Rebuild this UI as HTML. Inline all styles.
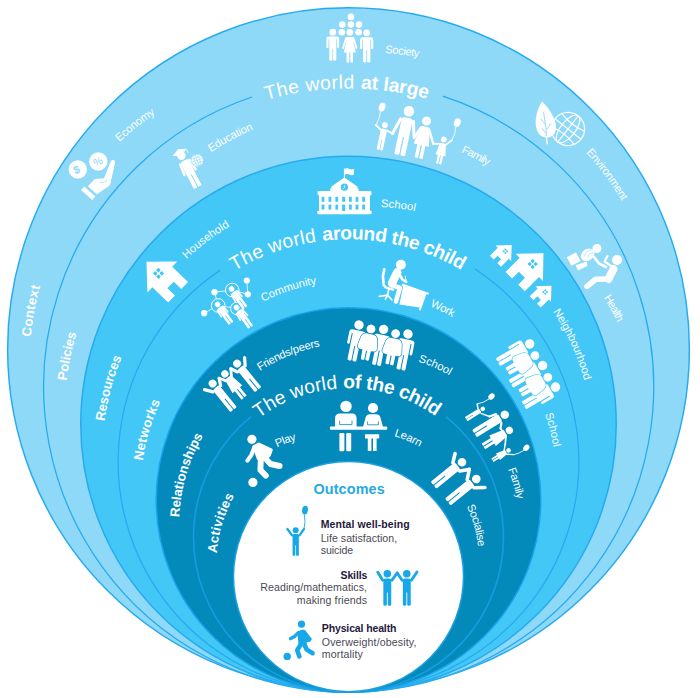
<!DOCTYPE html>
<html lang="en"><head><meta charset="utf-8"><title>The worlds of the child</title>
<style>html,body{margin:0;padding:0;background:#fff}svg{display:block}</style></head>
<body>
<svg width="700" height="698" viewBox="0 0 700 698"><defs><path id="p1" d="M197.95 129.31 A298.35 298.35 0 0 1 495.97 127.36"/><path id="p2" d="M190.69 305.18 A222.2 222.2 0 0 1 504.89 303.75"/><path id="p3" d="M232.13 444.15 A149 149 0 0 1 462.6 441.37"/><path id="p4" d="M30.21 343.35 A324 324 0 0 1 52.76 248.08"/><path id="p5" d="M65.85 386.5 A287 287 0 0 1 90.66 296.02"/><path id="p6" d="M104.02 426.25 A249 249 0 0 1 139.82 321.84"/><path id="p7" d="M142.25 464.88 A211 211 0 0 1 180.6 366.84"/><path id="p8" d="M179.31 520.78 A174 174 0 0 1 226.94 403.96"/><path id="p9" d="M216.63 555.99 A135 135 0 0 1 259.14 464.56"/><path id="p10" d="M378.71 52.73 A320 320 0 0 1 457.28 66.39"/><path id="p11" d="M114.5 146.44 A320 320 0 0 1 189.68 93.68"/><path id="p12" d="M206.25 155.36 A285 285 0 0 1 291.01 116.25"/><path id="p13" d="M455.87 150.03 A285 285 0 0 1 520.09 187.66"/><path id="p14" d="M581.67 147.78 A320 320 0 0 1 640.24 236.01"/><path id="p15" d="M600.63 292.7 A285 285 0 0 1 632.54 358.75"/><path id="p16" d="M376 206.81 A240 240 0 0 1 453.63 222.13"/><path id="p17" d="M183.08 262.41 A245 245 0 0 1 265.68 208.72"/><path id="p18" d="M259.35 303.67 A205 205 0 0 1 356.38 280.29"/><path id="p19" d="M426.21 304.43 A205 205 0 0 1 484.47 340.24"/><path id="p20" d="M550.16 307.44 A245 245 0 0 1 591.91 419.52"/><path id="p21" d="M543.63 410.14 A205 205 0 0 1 556.06 487.05"/><path id="p22" d="M257.18 372.89 A170 170 0 0 1 359.37 343.24"/><path id="p23" d="M414.86 360.47 A170 170 0 0 1 481.55 399.28"/><path id="p24" d="M506.71 466.06 A170 170 0 0 1 520 538.58"/><path id="p25" d="M274.65 448.31 A130 130 0 0 1 335.55 435.38"/><path id="p26" d="M391.51 435.26 A130 130 0 0 1 450.9 471.65"/><path id="p27" d="M465.58 503.85 A130 130 0 0 1 476.4 586.11"/></defs>
<ellipse cx="348.5" cy="349.2" rx="340.88" ry="341.38" fill="#8ed8f8" stroke="#26abf0" stroke-width="1.45"/>
<path d="M442.8 96.19 A305.02 305.52 0 1 1 252 97.02" fill="none" stroke="#26abf0" stroke-width="1.25"/>
<ellipse cx="348.5" cy="424.3" rx="267.75" ry="268.05" fill="#43c7f6" stroke="#26abf0" stroke-width="1.5"/>
<path d="M475 269.06 A230.38 230.38 0 1 1 220 270.39" fill="none" stroke="#26abf0" stroke-width="1.25"/>
<ellipse cx="348.5" cy="500" rx="192.25" ry="192.25" fill="#0489bb" stroke="#1aa2e8" stroke-width="1.5"/>
<path d="M446 416.71 A155 155 0 1 1 251 416.71" fill="none" stroke="#149ee0" stroke-width="1.6"/>
<circle cx="348.5" cy="576.6" r="115.05" fill="#fff" stroke="#1a9fe0" stroke-width="1.5"/>
<text font-family="'Liberation Sans', Arial, sans-serif" font-size="19.3" fill="#fff" xml:space="preserve"><textPath href="#p1" startOffset="74.59"><tspan letter-spacing="0.53">The world </tspan><tspan font-weight="bold" letter-spacing="-0.15">at large</tspan></textPath></text>
<text font-family="'Liberation Sans', Arial, sans-serif" font-size="19.3" fill="#fff" xml:space="preserve"><textPath href="#p2" startOffset="55.55"><tspan letter-spacing="0.41">The world </tspan><tspan font-weight="bold" letter-spacing="-0.4">around the child</tspan></textPath></text>
<text font-family="'Liberation Sans', Arial, sans-serif" font-size="19.3" fill="#fff" xml:space="preserve"><textPath href="#p3" startOffset="37.25"><tspan letter-spacing="0.08">The world </tspan><tspan font-weight="bold" letter-spacing="-0.4">of the child</tspan></textPath></text>
<text font-family="'Liberation Sans', Arial, sans-serif" font-size="13.2" font-weight="bold" fill="#fff" letter-spacing="0.38"><textPath href="#p4" startOffset="6.48">Context</textPath></text>
<text font-family="'Liberation Sans', Arial, sans-serif" font-size="13.2" font-weight="bold" fill="#fff" letter-spacing="-0.17"><textPath href="#p5" startOffset="5.74">Policies</textPath></text>
<text font-family="'Liberation Sans', Arial, sans-serif" font-size="13.2" font-weight="bold" fill="#fff" letter-spacing="-0.13"><textPath href="#p6" startOffset="4.98">Resources</textPath></text>
<text font-family="'Liberation Sans', Arial, sans-serif" font-size="13.2" font-weight="bold" fill="#fff" letter-spacing="0.34"><textPath href="#p7" startOffset="4.22">Networks</textPath></text>
<text font-family="'Liberation Sans', Arial, sans-serif" font-size="13.2" font-weight="bold" fill="#fff" letter-spacing="-0.07"><textPath href="#p8" startOffset="3.48">Relationships</textPath></text>
<text font-family="'Liberation Sans', Arial, sans-serif" font-size="13.2" font-weight="bold" fill="#fff" letter-spacing="0.2"><textPath href="#p9" startOffset="2.7">Activities</textPath></text>
<text font-family="'Liberation Sans', Arial, sans-serif" font-size="11.2" fill="#fff" letter-spacing="-0.45"><textPath href="#p10" startOffset="6.4">Society</textPath></text>
<text font-family="'Liberation Sans', Arial, sans-serif" font-size="11.2" fill="#fff" letter-spacing="-0.13"><textPath href="#p11" startOffset="6.4">Economy</textPath></text>
<text font-family="'Liberation Sans', Arial, sans-serif" font-size="11.2" fill="#fff" letter-spacing="-0.19"><textPath href="#p12" startOffset="5.7">Education</textPath></text>
<text font-family="'Liberation Sans', Arial, sans-serif" font-size="11.2" fill="#fff" letter-spacing="-0.67"><textPath href="#p13" startOffset="5.7">Family</textPath></text>
<text font-family="'Liberation Sans', Arial, sans-serif" font-size="11.2" fill="#fff" letter-spacing="-0.26"><textPath href="#p14" startOffset="6.4">Environment</textPath></text>
<text font-family="'Liberation Sans', Arial, sans-serif" font-size="11.2" fill="#fff" letter-spacing="-0.75"><textPath href="#p15" startOffset="5.7">Health</textPath></text>
<text font-family="'Liberation Sans', Arial, sans-serif" font-size="11.2" fill="#fff" letter-spacing="0.07"><textPath href="#p16" startOffset="4.8">School</textPath></text>
<text font-family="'Liberation Sans', Arial, sans-serif" font-size="11.2" fill="#fff" letter-spacing="0.08"><textPath href="#p17" startOffset="4.9">Household</textPath></text>
<text font-family="'Liberation Sans', Arial, sans-serif" font-size="11.2" fill="#fff" letter-spacing="0.01"><textPath href="#p18" startOffset="4.1">Community</textPath></text>
<text font-family="'Liberation Sans', Arial, sans-serif" font-size="11.2" fill="#fff" letter-spacing="-0.33"><textPath href="#p19" startOffset="4.1">Work</textPath></text>
<text font-family="'Liberation Sans', Arial, sans-serif" font-size="11.2" fill="#fff" letter-spacing="-0.05"><textPath href="#p20" startOffset="4.9">Neighbourhood</textPath></text>
<text font-family="'Liberation Sans', Arial, sans-serif" font-size="11.2" fill="#fff" letter-spacing="0.01"><textPath href="#p21" startOffset="4.1">School</textPath></text>
<text font-family="'Liberation Sans', Arial, sans-serif" font-size="11.2" fill="#fff" letter-spacing="-0.28"><textPath href="#p22" startOffset="3.4">Friends/peers</textPath></text>
<text font-family="'Liberation Sans', Arial, sans-serif" font-size="11.2" fill="#fff" letter-spacing="0.03"><textPath href="#p23" startOffset="3.4">School</textPath></text>
<text font-family="'Liberation Sans', Arial, sans-serif" font-size="11.2" fill="#fff" letter-spacing="-0.34"><textPath href="#p24" startOffset="3.4">Family</textPath></text>
<text font-family="'Liberation Sans', Arial, sans-serif" font-size="11.2" fill="#fff" letter-spacing="-0.38"><textPath href="#p25" startOffset="2.6">Play</textPath></text>
<text font-family="'Liberation Sans', Arial, sans-serif" font-size="11.2" fill="#fff" letter-spacing="-0.15"><textPath href="#p26" startOffset="2.6">Learn</textPath></text>
<text font-family="'Liberation Sans', Arial, sans-serif" font-size="11.2" fill="#fff" letter-spacing="-0.33"><textPath href="#p27" startOffset="2.6">Socialise</textPath></text>
<text font-family="'Liberation Sans', Arial, sans-serif" x="313.4" y="494.3" font-size="14.4" font-weight="bold" fill="#27aae1" text-anchor="start" letter-spacing="0.14">Outcomes</text>
<text font-family="'Liberation Sans', Arial, sans-serif" x="320.7" y="528.1" font-size="10.5" font-weight="bold" fill="#1f1a3c" text-anchor="start" letter-spacing="0.09">Mental well-being</text>
<text font-family="'Liberation Sans', Arial, sans-serif" x="320.7" y="542.2" font-size="10.6" fill="#4b4957" text-anchor="start" letter-spacing="0.03">Life satisfaction,</text>
<text font-family="'Liberation Sans', Arial, sans-serif" x="320.7" y="553.7" font-size="10.6" fill="#4b4957" text-anchor="start" letter-spacing="-0.07">suicide</text>
<text font-family="'Liberation Sans', Arial, sans-serif" x="340.5" y="578.9" font-size="10.5" font-weight="bold" fill="#1f1a3c" text-anchor="start" letter-spacing="-0.12">Skills</text>
<text font-family="'Liberation Sans', Arial, sans-serif" x="260.3" y="590.8" font-size="10.6" fill="#4b4957" text-anchor="start" letter-spacing="0.07">Reading/mathematics,</text>
<text font-family="'Liberation Sans', Arial, sans-serif" x="296.8" y="603.7" font-size="10.6" fill="#4b4957" text-anchor="start" letter-spacing="0.1">making friends</text>
<text font-family="'Liberation Sans', Arial, sans-serif" x="321.8" y="631.6" font-size="10.5" font-weight="bold" fill="#1f1a3c" text-anchor="start" letter-spacing="-0.13">Physical health</text>
<text font-family="'Liberation Sans', Arial, sans-serif" x="321.8" y="646.2" font-size="10.6" fill="#4b4957" text-anchor="start" letter-spacing="0.13">Overweight/obesity,</text>
<text font-family="'Liberation Sans', Arial, sans-serif" x="321.8" y="657.6" font-size="10.6" fill="#4b4957" text-anchor="start" letter-spacing="0.13">mortality</text>
<circle cx="350.9" cy="16.9" r="3.3" fill="#fff"/>
<circle cx="342.3" cy="24.6" r="3.3" fill="#fff"/>
<circle cx="350.9" cy="24.6" r="3.3" fill="#fff"/>
<circle cx="359" cy="24.6" r="3.3" fill="#fff"/>
<circle cx="341.8" cy="32.2" r="3.3" fill="#fff"/>
<circle cx="358.6" cy="32.2" r="3.3" fill="#fff"/>
<g transform="translate(332.8 28.8) scale(0.32)" fill="#fff"><circle cx="0" cy="10.5" r="10.5"/><path d="M-20 31 Q-20 24 -13 24 L13 24 Q20 24 20 31 L20 57 Q20 60.5 16.8 60.5 Q13.4 60.5 13.4 57 L13.4 33 L11 33 L11 97 Q11 100 6 100 Q1.2 100 1.2 97 L1.2 63 L-1.2 63 L-1.2 97 Q-1.2 100 -6 100 Q-11 100 -11 97 L-11 33 L-13.4 33 L-13.4 57 Q-13.4 60.5 -16.8 60.5 Q-20 60.5 -20 57 Z"/></g>
<g transform="translate(349.8 28.8) scale(0.34)" fill="#fff"><circle cx="0" cy="10.5" r="10"/><path d="M-9 24 L9 24 Q13 24 14 28 L22 55 Q23 58 20.5 59 Q18 60 17 57 L11 37 L10 37 L18 70 L9.5 70 L9.5 97 Q9.5 100 5.5 100 Q1.5 100 1.5 97 L1.5 70 L-1.5 70 L-1.5 97 Q-1.5 100 -5.5 100 Q-9.5 100 -9.5 97 L-9.5 70 L-18 70 L-10 37 L-11 37 L-17 57 Q-18 60 -20.5 59 Q-23 58 -22 55 L-14 28 Q-13 24 -9 24 Z"/></g>
<g transform="translate(366.7 29.4) scale(0.33)" fill="#fff"><circle cx="0" cy="10.5" r="10.5"/><path d="M-20 31 Q-20 24 -13 24 L13 24 Q20 24 20 31 L20 57 Q20 60.5 16.8 60.5 Q13.4 60.5 13.4 57 L13.4 33 L11 33 L11 97 Q11 100 6 100 Q1.2 100 1.2 97 L1.2 63 L-1.2 63 L-1.2 97 Q-1.2 100 -6 100 Q-11 100 -11 97 L-11 33 L-13.4 33 L-13.4 57 Q-13.4 60.5 -16.8 60.5 Q-20 60.5 -20 57 Z"/></g>
<g fill="#fff"><rect x="317.6" y="191" width="53.8" height="4.2" rx="0.8"/><rect x="319" y="194" width="51" height="18" rx="0"/><rect x="317.4" y="210.8" width="54.2" height="3.4" rx="0.8"/><path d="M344.4 177.4 L357.4 186.6 L357.4 188.4 L358.6 188.4 L358.6 192 L330.2 192 L330.2 188.4 L331.4 188.4 L331.4 186.6 Z"/><rect x="343.9" y="168.6" width="1" height="10" rx="0"/><path d="M344.6 168.8 Q347 167.6 349.3 168.8 Q351.6 170 354 168.8 L354 174.6 Q351.6 175.8 349.3 174.6 Q347 173.4 344.6 174.6 Z"/><circle cx="344.4" cy="187.2" r="3.6" fill="#43c7f6"/><path d="M344.4 185.2 L344.4 187.6 L343.2 188.8" stroke="#fff" stroke-width="0.8" fill="none"/><rect x="321.6" y="196.8" width="2.8" height="5" rx="0" fill="#43c7f6"/><rect x="321.6" y="204.6" width="2.8" height="5" rx="0" fill="#43c7f6"/><rect x="328.5" y="196.8" width="2.8" height="5" rx="0" fill="#43c7f6"/><rect x="328.5" y="204.6" width="2.8" height="5" rx="0" fill="#43c7f6"/><rect x="335.4" y="196.8" width="2.8" height="5" rx="0" fill="#43c7f6"/><rect x="335.4" y="204.6" width="2.8" height="5" rx="0" fill="#43c7f6"/><rect x="342.2" y="196.8" width="2.8" height="5" rx="0" fill="#43c7f6"/><rect x="342.1" y="204.6" width="3" height="6.4" rx="0" fill="#43c7f6"/><rect x="349" y="196.8" width="2.8" height="5" rx="0" fill="#43c7f6"/><rect x="349" y="204.6" width="2.8" height="5" rx="0" fill="#43c7f6"/><rect x="355.6" y="196.8" width="2.8" height="5" rx="0" fill="#43c7f6"/><rect x="355.6" y="204.6" width="2.8" height="5" rx="0" fill="#43c7f6"/><rect x="362.2" y="196.8" width="2.8" height="5" rx="0" fill="#43c7f6"/><rect x="362.2" y="204.6" width="2.8" height="5" rx="0" fill="#43c7f6"/></g>
<g transform="translate(162.3 277) rotate(-46)" fill="#fff"><path d="M0 -22 L21.4 0 L14.3 0 L14.3 22 L4.58 22 L4.58 11.44 L-4.58 11.44 L-4.58 22 L-14.3 22 L-14.3 0 L-21.4 0 Z"/><rect x="-4.02" y="-9.3" width="3.42" height="3.42" rx="0.76" fill="#43c7f6"/><rect x="0.6" y="-4.68" width="3.42" height="3.42" rx="0.76" fill="#43c7f6"/><rect x="-4.02" y="-4.68" width="3.42" height="3.42" rx="0.76" fill="#43c7f6"/><rect x="0.6" y="-9.3" width="3.42" height="3.42" rx="0.76" fill="#43c7f6"/></g>
<g transform="translate(529.3 267.4) rotate(45)" fill="#fff"><path d="M0 -20 L19.3 0 L13.65 0 L13.65 20 L4.37 20 L4.37 10.4 L-4.37 10.4 L-4.37 20 L-13.65 20 L-13.65 0 L-19.3 0 Z"/><rect x="-3.65" y="-8.45" width="3.11" height="3.11" rx="0.69" fill="#43c7f6"/><rect x="0.55" y="-4.25" width="3.11" height="3.11" rx="0.69" fill="#43c7f6"/><rect x="-3.65" y="-4.25" width="3.11" height="3.11" rx="0.69" fill="#43c7f6"/><rect x="0.55" y="-8.45" width="3.11" height="3.11" rx="0.69" fill="#43c7f6"/></g>
<g transform="translate(503.4 253.3) rotate(45)" fill="#fff"><path d="M0 -11.7 L11 0 L7.85 0 L7.85 11.2 L2.51 11.2 L2.51 5.82 L-2.51 5.82 L-2.51 11.2 L-7.85 11.2 L-7.85 0 L-11 0 Z"/><rect x="-2.14" y="-4.94" width="1.82" height="1.82" rx="0.4" fill="#43c7f6"/><rect x="0.32" y="-2.49" width="1.82" height="1.82" rx="0.4" fill="#43c7f6"/><rect x="-2.14" y="-2.49" width="1.82" height="1.82" rx="0.4" fill="#43c7f6"/><rect x="0.32" y="-4.94" width="1.82" height="1.82" rx="0.4" fill="#43c7f6"/></g>
<g transform="translate(543.2 294) rotate(45)" fill="#fff"><path d="M0 -11.7 L11 0 L7.85 0 L7.85 11.2 L2.51 11.2 L2.51 5.82 L-2.51 5.82 L-2.51 11.2 L-7.85 11.2 L-7.85 0 L-11 0 Z"/><rect x="-2.14" y="-4.94" width="1.82" height="1.82" rx="0.4" fill="#43c7f6"/><rect x="0.32" y="-2.49" width="1.82" height="1.82" rx="0.4" fill="#43c7f6"/><rect x="-2.14" y="-2.49" width="1.82" height="1.82" rx="0.4" fill="#43c7f6"/><rect x="0.32" y="-4.94" width="1.82" height="1.82" rx="0.4" fill="#43c7f6"/></g>
<g transform="translate(409 111) rotate(12)" fill="#fff"><circle cx="-20.6" cy="18.79" r="2.99"/><path d="M-23.73 24.06 Q-23.73 22.64 -22.31 22.64 L-18.89 22.64 Q-17.47 22.64 -17.47 24.06 L-17.47 43.44 Q-17.47 44.3 -18.89 44.3 Q-20.26 44.3 -20.26 43.44 L-20.26 33.75 L-20.94 33.75 L-20.94 43.44 Q-20.94 44.3 -22.31 44.3 Q-23.73 44.3 -23.73 43.44 Z"/><path d="M-24.3 23.92 L-29.4 20.6" fill="none" stroke="#fff" stroke-width="1.99" stroke-linecap="round" stroke-linejoin="round"/><path d="M-16.9 23.92 L-11.5 25.5" fill="none" stroke="#fff" stroke-width="1.99" stroke-linecap="round" stroke-linejoin="round"/><circle cx="0" cy="0.28" r="5.28"/><path d="M-5.53 9.59 Q-5.53 7.07 -3.02 7.07 L3.02 7.07 Q5.53 7.07 5.53 9.59 L5.53 43.79 Q5.53 45.3 3.02 45.3 Q0.6 45.3 0.6 43.79 L0.6 26.69 L-0.6 26.69 L-0.6 43.79 Q-0.6 45.3 -3.02 45.3 Q-5.53 45.3 -5.53 43.79 Z"/><path d="M-6.54 9.34 L-11.5 25.5" fill="none" stroke="#fff" stroke-width="3.02" stroke-linecap="round" stroke-linejoin="round"/><path d="M6.54 9.34 L10.5 25" fill="none" stroke="#fff" stroke-width="3.02" stroke-linecap="round" stroke-linejoin="round"/><circle cx="19.2" cy="6.12" r="4.51"/><path d="M16.19 11.92 L22.21 11.92 Q23.71 11.92 24.14 13.64 L26.94 30.84 L23.29 30.84 L23.29 44.17 L19.84 44.17 L19.84 30.84 L18.55 30.84 L18.55 44.17 L15.11 44.17 L15.11 30.84 L11.46 30.84 L14.25 13.64 Q14.68 11.92 16.19 11.92 Z"/><path d="M14.9 13.85 L10.5 25" fill="none" stroke="#fff" stroke-width="2.36" stroke-linecap="round" stroke-linejoin="round"/><path d="M23.5 13.85 L30.5 27" fill="none" stroke="#fff" stroke-width="2.36" stroke-linecap="round" stroke-linejoin="round"/><circle cx="40" cy="20.74" r="2.94"/><path d="M38.04 24.52 L41.96 24.52 Q42.94 24.52 43.22 25.64 L45.04 36.84 L42.66 36.84 L42.66 45.52 L40.42 45.52 L40.42 36.84 L39.58 36.84 L39.58 45.52 L37.34 45.52 L37.34 36.84 L34.96 36.84 L36.78 25.64 Q37.06 24.52 38.04 24.52 Z"/><path d="M37.2 25.78 L30.5 27" fill="none" stroke="#fff" stroke-width="1.82" stroke-linecap="round" stroke-linejoin="round"/><path d="M42.8 25.78 L48.1 19.4" fill="none" stroke="#fff" stroke-width="1.82" stroke-linecap="round" stroke-linejoin="round"/><ellipse cx="-27.2" cy="1.7" rx="3.3" ry="4.4" transform="rotate(8 -27.2 1.7)" fill="#fff"/><path d="M-27.81 6.06 Q-26.86 13.52 -29.4 20.6" fill="none" stroke="#fff" stroke-width="0.8"/><ellipse cx="49.7" cy="1.3" rx="3.3" ry="4.4" transform="rotate(8 49.7 1.3)" fill="#fff"/><path d="M49.09 5.66 Q50.24 12.65 48.1 19.4" fill="none" stroke="#fff" stroke-width="0.8"/></g>
<g fill="#fff"><circle cx="77.8" cy="169.5" r="9.2"/><circle cx="98.3" cy="161.5" r="9.2"/><path d="M84.2 186.6 L95.4 196.6 L92.2 200 L81 190 Z"/><path d="M87.8 186.3 L94 179.8 Q95 178.8 97 178.7 L104 178.2 L110.6 161.5 Q111.8 159 113.8 160 Q115.6 161 115 163.5 L110.3 184 Q109.8 185.8 108 186.8 L96.8 194.3 Z"/><path d="M99.5 182.6 L104.5 182.3 Q106.8 181.8 106.6 179.6" fill="none" stroke="#8ed8f8" stroke-width="0.7"/></g>
<text font-family="'Liberation Sans', Arial, sans-serif" font-size="11" font-weight="bold" fill="#8ed8f8" text-anchor="middle" transform="translate(77.9 173.3) rotate(-20)">$</text>
<text font-family="'Liberation Sans', Arial, sans-serif" font-size="10.5" fill="#8ed8f8" text-anchor="middle" transform="translate(99.2 165) rotate(-20)">%</text>
<g transform="translate(179.6 152.2) rotate(-27.6)" fill="#fff"><circle cx="0" cy="4.15" r="4.15"/><path d="M-4.35 11.46 Q-4.35 9.48 -2.37 9.48 L2.37 9.48 Q4.35 9.48 4.35 11.46 L4.35 38.32 Q4.35 39.5 2.37 39.5 Q0.47 39.5 0.47 38.32 L0.47 24.89 L-0.47 24.89 L-0.47 38.32 Q-0.47 39.5 -2.37 39.5 Q-4.35 39.5 -4.35 38.32 Z"/><path d="M-5.13 11.26 L-6.32 22.52" fill="none" stroke="#fff" stroke-width="2.57" stroke-linecap="round" stroke-linejoin="round"/><path d="M5.13 11.26 L6.32 22.52" fill="none" stroke="#fff" stroke-width="2.57" stroke-linecap="round" stroke-linejoin="round"/><path d="M-8 0.2 L0 -3.4 L8 0.2 L0 3.6 Z"/><path d="M-4 1.8 L4 1.8 L4 5 L-4 5 Z"/><path d="M7.2 0.4 L7.2 5" stroke="#fff" stroke-width="0.7" fill="none"/></g>
<circle cx="197.1" cy="160.2" r="6.3" fill="#fff"/>
<g transform="translate(197.1 160.2) rotate(-20)" fill="none" stroke="#8ed8f8" stroke-width="0.55"><circle r="6" fill="none"/><ellipse rx="2.7" ry="6"/><path d="M0 -6 V6 M-6 0 H6"/><path d="M-5.16 -3 Q0 -1.68 5.16 -3 M-5.16 3 Q0 1.68 5.16 3"/></g>
<g transform="translate(568 129) rotate(38)" fill="none" stroke="#fff" stroke-width="1.2"><circle r="16.6" fill="none"/><ellipse rx="7.47" ry="16.6"/><path d="M0 -16.6 V16.6 M-16.6 0 H16.6"/><path d="M-14.28 -8.3 Q0 -4.65 14.28 -8.3 M-14.28 8.3 Q0 4.65 14.28 8.3"/></g>
<g fill="#fff"><path d="M542 101.2 Q553 112 555.8 124 Q557.6 135.5 548.5 137.5 Q538 138.5 535.8 126 Q534.6 113 542 101.2 Z"/><path d="M546.6 144.2 Q546.8 128 543.6 112 M545.6 124.5 L541 119 M546.3 130 L551 123.5 M546.3 133.5 L541.5 128.5" stroke="#8ed8f8" stroke-width="0.9" fill="none"/><path d="M546.2 136 L547.2 144.4" stroke="#fff" stroke-width="1.5" fill="none"/></g>
<g fill="#fff"><circle cx="597" cy="248.5" r="4.5"/><circle cx="617" cy="260" r="5"/><ellipse cx="587.6" cy="254.8" rx="7.3" ry="5.7" transform="rotate(-38 587.6 254.8)"/><path d="M566.8 257.2 L576 252.4 L580.6 261 L571.4 265.8 Z"/><path d="M591.5 249.6 Q585.6 250.4 584.4 256.6 M593 252.6 Q588.6 253 587.6 258" fill="none" stroke="#8ed8f8" stroke-width="0.6"/><path d="M575.6 265.2 L586.8 261.6 L587.4 266 L578 270.6 Z"/><path d="M594 257 L599 263.5 L606 267" fill="none" stroke="#fff" stroke-width="2.8" stroke-linecap="round" stroke-linejoin="round"/><path d="M613.5 269 L608.5 279" fill="none" stroke="#fff" stroke-width="8" stroke-linecap="round" stroke-linejoin="round"/><path d="M608.5 279 L595.5 279.3 L587 286.3" fill="none" stroke="#fff" stroke-width="5.6" stroke-linecap="round" stroke-linejoin="round"/><path d="M612.5 267 L604.5 261.5 L607.5 256" fill="none" stroke="#fff" stroke-width="2.2" stroke-linecap="round" stroke-linejoin="round"/></g>
<g fill="#fff"><circle cx="400.9" cy="264.8" r="5"/><path d="M397.3 272.3 L392 283.2" fill="none" stroke="#fff" stroke-width="8.4" stroke-linecap="round" stroke-linejoin="round"/><path d="M397.8 271.8 L402.5 279.5 L406.2 282" fill="none" stroke="#fff" stroke-width="2.6" stroke-linecap="round" stroke-linejoin="round"/><path d="M391.2 285 L399.8 287.8 L396 301.5" fill="none" stroke="#fff" stroke-width="4.6" stroke-linecap="round" stroke-linejoin="round"/><path d="M384.3 269.4 L382.9 276 L383.5 282.6" fill="none" stroke="#fff" stroke-width="2.7" stroke-linecap="round" stroke-linejoin="round"/><path d="M383.4 284.6 L386 287.6 L393 289.6" fill="none" stroke="#fff" stroke-width="2.4" stroke-linecap="round" stroke-linejoin="round"/><path d="M388.6 290 L387.6 295.2" fill="none" stroke="#fff" stroke-width="1.8" stroke-linecap="round" stroke-linejoin="round"/><path d="M379.4 296.4 L387.6 295.2 L391.8 299.8" fill="none" stroke="#fff" stroke-width="1.7" stroke-linecap="round" stroke-linejoin="round"/><path d="M387.6 295.2 L385.4 299.2" fill="none" stroke="#fff" stroke-width="1.7" stroke-linecap="round" stroke-linejoin="round"/><path d="M406.2 282 L405.3 276.2" fill="none" stroke="#fff" stroke-width="1" stroke-linecap="round" stroke-linejoin="round"/><path d="M402.4 283.4 L429 293 L428.4 294.8 L426.4 294.2 L420.6 310.6 L418.8 310 L419.6 307.4 L399.4 304.6 L403 286.6 L401.8 285.2 Z"/></g>
<g stroke="#fff" stroke-width="0.8" fill="none"><path d="M246.8 280.5 L247.8 294.3"/><path d="M247.8 294.3 L232.2 290"/><path d="M214.5 292.2 L232.2 290"/><path d="M214.5 292.2 L218.2 305.5"/><path d="M204.2 313.2 L218.2 305.5"/><path d="M218.2 305.5 L237 308.5"/></g>
<circle cx="232.2" cy="290" r="6.8" fill="#43c7f6" stroke="#fff" stroke-width="1"/>
<circle cx="218.2" cy="305.5" r="6.8" fill="#43c7f6" stroke="#fff" stroke-width="1"/>
<circle cx="237" cy="308.5" r="6.4" fill="#43c7f6" stroke="#fff" stroke-width="1"/>
<circle cx="246.8" cy="280.5" r="3.1" fill="#fff"/>
<circle cx="247.8" cy="294.3" r="3.1" fill="#fff"/>
<circle cx="214.5" cy="292.2" r="3.1" fill="#fff"/>
<circle cx="204.2" cy="313.2" r="3.1" fill="#fff"/>
<g transform="translate(229.9 286.8) rotate(-36)" fill="#fff"><circle cx="0" cy="2.73" r="2.73"/><path d="M-2.86 7.54 Q-2.86 6.24 -1.56 6.24 L1.56 6.24 Q2.86 6.24 2.86 7.54 L2.86 25.22 Q2.86 26 1.56 26 Q0.31 26 0.31 25.22 L0.31 16.38 L-0.31 16.38 L-0.31 25.22 Q-0.31 26 -1.56 26 Q-2.86 26 -2.86 25.22 Z"/><path d="M-3.38 7.41 L-4.16 14.82" fill="none" stroke="#fff" stroke-width="1.69" stroke-linecap="round" stroke-linejoin="round"/><path d="M3.38 7.41 L4.16 14.82" fill="none" stroke="#fff" stroke-width="1.69" stroke-linecap="round" stroke-linejoin="round"/></g>
<g transform="translate(215.9 302.3) rotate(-36)" fill="#fff"><circle cx="0" cy="2.73" r="2.73"/><path d="M-2.86 7.54 Q-2.86 6.24 -1.56 6.24 L1.56 6.24 Q2.86 6.24 2.86 7.54 L2.86 25.22 Q2.86 26 1.56 26 Q0.31 26 0.31 25.22 L0.31 16.38 L-0.31 16.38 L-0.31 25.22 Q-0.31 26 -1.56 26 Q-2.86 26 -2.86 25.22 Z"/><path d="M-3.38 7.41 L-4.16 14.82" fill="none" stroke="#fff" stroke-width="1.69" stroke-linecap="round" stroke-linejoin="round"/><path d="M3.38 7.41 L4.16 14.82" fill="none" stroke="#fff" stroke-width="1.69" stroke-linecap="round" stroke-linejoin="round"/></g>
<g transform="translate(234.9 305.3) rotate(-36)" fill="#fff"><circle cx="0" cy="2.83" r="2.83"/><path d="M-2.97 7.83 Q-2.97 6.48 -1.62 6.48 L1.62 6.48 Q2.97 6.48 2.97 7.83 L2.97 26.19 Q2.97 27 1.62 27 Q0.32 27 0.32 26.19 L0.32 17.01 L-0.32 17.01 L-0.32 26.19 Q-0.32 27 -1.62 27 Q-2.97 27 -2.97 26.19 Z"/><path d="M-3.51 7.7 L-4.32 15.39" fill="none" stroke="#fff" stroke-width="1.76" stroke-linecap="round" stroke-linejoin="round"/><path d="M3.51 7.7 L4.32 15.39" fill="none" stroke="#fff" stroke-width="1.76" stroke-linecap="round" stroke-linejoin="round"/></g>
<g transform="translate(529.7 343.9) rotate(60) scale(0.41) translate(0 -10.5)" fill="#fff" stroke="#43c7f6" stroke-width="2.96" paint-order="stroke"><circle cx="0" cy="10.5" r="11.5"/><path d="M-20 31 Q-20 24 -13 24 L13 24 Q20 24 20 31 L20 57 Q20 60.5 16.8 60.5 Q13.4 60.5 13.4 57 L13.4 33 L11 33 L11 97 Q11 100 6 100 Q1.2 100 1.2 97 L1.2 63 L-1.2 63 L-1.2 97 Q-1.2 100 -6 100 Q-11 100 -11 97 L-11 33 L-13.4 33 L-13.4 57 Q-13.4 60.5 -16.8 60.5 Q-20 60.5 -20 57 Z"/></g>
<g transform="translate(542.6 365.5) rotate(60) scale(0.41) translate(0 -10.5)" fill="#fff" stroke="#43c7f6" stroke-width="2.96" paint-order="stroke"><circle cx="0" cy="10.5" r="11.5"/><path d="M-20 31 Q-20 24 -13 24 L13 24 Q20 24 20 31 L20 57 Q20 60.5 16.8 60.5 Q13.4 60.5 13.4 57 L13.4 33 L11 33 L11 97 Q11 100 6 100 Q1.2 100 1.2 97 L1.2 63 L-1.2 63 L-1.2 97 Q-1.2 100 -6 100 Q-11 100 -11 97 L-11 33 L-13.4 33 L-13.4 57 Q-13.4 60.5 -16.8 60.5 Q-20 60.5 -20 57 Z"/></g>
<g transform="translate(555.5 387.1) rotate(60) scale(0.41) translate(0 -10.5)" fill="#fff" stroke="#43c7f6" stroke-width="2.96" paint-order="stroke"><circle cx="0" cy="10.5" r="11.5"/><path d="M-20 31 Q-20 24 -13 24 L13 24 Q20 24 20 31 L20 57 Q20 60.5 16.8 60.5 Q13.4 60.5 13.4 57 L13.4 33 L11 33 L11 97 Q11 100 6 100 Q1.2 100 1.2 97 L1.2 63 L-1.2 63 L-1.2 97 Q-1.2 100 -6 100 Q-11 100 -11 97 L-11 33 L-13.4 33 L-13.4 57 Q-13.4 60.5 -16.8 60.5 Q-20 60.5 -20 57 Z"/></g>
<g transform="translate(534.9 355.6) rotate(60) scale(0.39) translate(0 -10.5)" fill="#fff" stroke="#43c7f6" stroke-width="3.12" paint-order="stroke"><circle cx="0" cy="10.5" r="11.3"/><path d="M-9 23.5 L9 23.5 Q18.5 24.5 21 34 L25 57 Q25.6 64.5 18 66 L11 66.5 L10.5 89 Q10.5 92 6 92 Q1.3 92 1.3 89 L1.3 68 L-1.3 68 L-1.3 89 Q-1.3 92 -6 92 Q-10.5 92 -10.5 89 L-11 66.5 L-18 66 Q-25.6 64.5 -25 57 L-21 34 Q-18.5 24.5 -9 23.5 Z"/></g>
<g transform="translate(547.8 377.3) rotate(60) scale(0.39) translate(0 -10.5)" fill="#fff" stroke="#43c7f6" stroke-width="3.12" paint-order="stroke"><circle cx="0" cy="10.5" r="11.3"/><path d="M-9 23.5 L9 23.5 Q18.5 24.5 21 34 L25 57 Q25.6 64.5 18 66 L11 66.5 L10.5 89 Q10.5 92 6 92 Q1.3 92 1.3 89 L1.3 68 L-1.3 68 L-1.3 89 Q-1.3 92 -6 92 Q-10.5 92 -10.5 89 L-11 66.5 L-18 66 Q-25.6 64.5 -25 57 L-21 34 Q-18.5 24.5 -9 23.5 Z"/></g>
<g transform="translate(359 325) rotate(11.5) scale(0.41) translate(0 -10.5)" fill="#fff" stroke="#0489bb" stroke-width="2.96" paint-order="stroke"><circle cx="0" cy="10.5" r="11.5"/><path d="M-20 31 Q-20 24 -13 24 L13 24 Q20 24 20 31 L20 57 Q20 60.5 16.8 60.5 Q13.4 60.5 13.4 57 L13.4 33 L11 33 L11 97 Q11 100 6 100 Q1.2 100 1.2 97 L1.2 63 L-1.2 63 L-1.2 97 Q-1.2 100 -6 100 Q-11 100 -11 97 L-11 33 L-13.4 33 L-13.4 57 Q-13.4 60.5 -16.8 60.5 Q-20 60.5 -20 57 Z"/></g>
<g transform="translate(383.6 329.4) rotate(11.5) scale(0.41) translate(0 -10.5)" fill="#fff" stroke="#0489bb" stroke-width="2.96" paint-order="stroke"><circle cx="0" cy="10.5" r="11.5"/><path d="M-20 31 Q-20 24 -13 24 L13 24 Q20 24 20 31 L20 57 Q20 60.5 16.8 60.5 Q13.4 60.5 13.4 57 L13.4 33 L11 33 L11 97 Q11 100 6 100 Q1.2 100 1.2 97 L1.2 63 L-1.2 63 L-1.2 97 Q-1.2 100 -6 100 Q-11 100 -11 97 L-11 33 L-13.4 33 L-13.4 57 Q-13.4 60.5 -16.8 60.5 Q-20 60.5 -20 57 Z"/></g>
<g transform="translate(408 334) rotate(11.5) scale(0.41) translate(0 -10.5)" fill="#fff" stroke="#0489bb" stroke-width="2.96" paint-order="stroke"><circle cx="0" cy="10.5" r="11.5"/><path d="M-20 31 Q-20 24 -13 24 L13 24 Q20 24 20 31 L20 57 Q20 60.5 16.8 60.5 Q13.4 60.5 13.4 57 L13.4 33 L11 33 L11 97 Q11 100 6 100 Q1.2 100 1.2 97 L1.2 63 L-1.2 63 L-1.2 97 Q-1.2 100 -6 100 Q-11 100 -11 97 L-11 33 L-13.4 33 L-13.4 57 Q-13.4 60.5 -16.8 60.5 Q-20 60.5 -20 57 Z"/></g>
<g transform="translate(371 329) rotate(11.5) scale(0.39) translate(0 -10.5)" fill="#fff" stroke="#0489bb" stroke-width="3.12" paint-order="stroke"><circle cx="0" cy="10.5" r="11.3"/><path d="M-9 23.5 L9 23.5 Q18.5 24.5 21 34 L25 57 Q25.6 64.5 18 66 L11 66.5 L10.5 89 Q10.5 92 6 92 Q1.3 92 1.3 89 L1.3 68 L-1.3 68 L-1.3 89 Q-1.3 92 -6 92 Q-10.5 92 -10.5 89 L-11 66.5 L-18 66 Q-25.6 64.5 -25 57 L-21 34 Q-18.5 24.5 -9 23.5 Z"/></g>
<g transform="translate(395.6 333.6) rotate(11.5) scale(0.39) translate(0 -10.5)" fill="#fff" stroke="#0489bb" stroke-width="3.12" paint-order="stroke"><circle cx="0" cy="10.5" r="11.3"/><path d="M-9 23.5 L9 23.5 Q18.5 24.5 21 34 L25 57 Q25.6 64.5 18 66 L11 66.5 L10.5 89 Q10.5 92 6 92 Q1.3 92 1.3 89 L1.3 68 L-1.3 68 L-1.3 89 Q-1.3 92 -6 92 Q-10.5 92 -10.5 89 L-11 66.5 L-18 66 Q-25.6 64.5 -25 57 L-21 34 Q-18.5 24.5 -9 23.5 Z"/></g>
<g transform="translate(212.6 383.6) rotate(-39)" fill="#fff"><circle cx="0" cy="0" r="3.94"/><path d="M-4.12 6.94 Q-4.12 5.06 -2.25 5.06 L2.25 5.06 Q4.12 5.06 4.12 6.94 L4.12 32.44 Q4.12 33.56 2.25 33.56 Q0.45 33.56 0.45 32.44 L0.45 19.69 L-0.45 19.69 L-0.45 32.44 Q-0.45 33.56 -2.25 33.56 Q-4.12 33.56 -4.12 32.44 Z"/><path d="M-4.88 6.75 L-10.07 -0.43" fill="none" stroke="#fff" stroke-width="3.22" stroke-linecap="round" stroke-linejoin="round"/><path d="M4.88 6.75 L8.39 -0.03" fill="none" stroke="#fff" stroke-width="3.22" stroke-linecap="round" stroke-linejoin="round"/><circle cx="15.69" cy="0.17" r="3.62"/><path d="M13.28 4.83 L18.11 4.83 Q19.32 4.83 19.66 6.21 L21.9 20.01 L18.97 20.01 L18.97 30.7 L16.21 30.7 L16.21 20.01 L15.18 20.01 L15.18 30.7 L12.42 30.7 L12.42 20.01 L9.48 20.01 L11.73 6.21 Q12.07 4.83 13.28 4.83 Z"/><path d="M12.24 6.38 L8.39 -0.03" fill="none" stroke="#fff" stroke-width="2.76" stroke-linecap="round" stroke-linejoin="round"/><path d="M19.14 6.38 L23.46 -0.05" fill="none" stroke="#fff" stroke-width="2.76" stroke-linecap="round" stroke-linejoin="round"/><circle cx="31.63" cy="-0.12" r="3.94"/><path d="M27.5 6.81 Q27.5 4.94 29.38 4.94 L33.88 4.94 Q35.75 4.94 35.75 6.81 L35.75 32.31 Q35.75 33.44 33.88 33.44 Q32.08 33.44 32.08 32.31 L32.08 19.56 L31.18 19.56 L31.18 32.31 Q31.18 33.44 29.38 33.44 Q27.5 33.44 27.5 32.31 Z"/><path d="M26.75 6.63 L23.46 -0.05" fill="none" stroke="#fff" stroke-width="3.22" stroke-linecap="round" stroke-linejoin="round"/><path d="M36.5 6.63 L41.29 -0.15" fill="none" stroke="#fff" stroke-width="3.22" stroke-linecap="round" stroke-linejoin="round"/></g>
<g transform="translate(504.7 414.8) rotate(58.3)" fill="#fff"><circle cx="-16.58" cy="15.53" r="2.31"/><path d="M-19 19.6 Q-19 18.5 -17.9 18.5 L-15.26 18.5 Q-14.16 18.5 -14.16 19.6 L-14.16 34.56 Q-14.16 35.22 -15.26 35.22 Q-16.32 35.22 -16.32 34.56 L-16.32 27.08 L-16.84 27.08 L-16.84 34.56 Q-16.84 35.22 -17.9 35.22 Q-19 35.22 -19 34.56 Z"/><path d="M-19.44 19.49 L-23.72 17.67" fill="none" stroke="#fff" stroke-width="1.54" stroke-linecap="round" stroke-linejoin="round"/><path d="M-13.72 19.49 L-6.54 13.83" fill="none" stroke="#fff" stroke-width="1.54" stroke-linecap="round" stroke-linejoin="round"/><circle cx="0" cy="-0.1" r="4.2"/><path d="M-4.4 7.3 Q-4.4 5.3 -2.4 5.3 L2.4 5.3 Q4.4 5.3 4.4 7.3 L4.4 34.5 Q4.4 35.7 2.4 35.7 Q0.48 35.7 0.48 34.5 L0.48 20.9 L-0.48 20.9 L-0.48 34.5 Q-0.48 35.7 -2.4 35.7 Q-4.4 35.7 -4.4 34.5 Z"/><path d="M-5.2 7.1 L-6.54 13.83" fill="none" stroke="#fff" stroke-width="2.2" stroke-linecap="round" stroke-linejoin="round"/><path d="M5.2 7.1 L9.45 10.77" fill="none" stroke="#fff" stroke-width="2.2" stroke-linecap="round" stroke-linejoin="round"/><circle cx="15.71" cy="4.18" r="3.62"/><path d="M13.29 8.84 L18.12 8.84 Q19.33 8.84 19.68 10.22 L21.92 24.02 L18.99 24.02 L18.99 34.72 L16.23 34.72 L16.23 24.02 L15.19 24.02 L15.19 34.72 L12.43 34.72 L12.43 24.02 L9.5 24.02 L11.74 10.22 Q12.09 8.84 13.29 8.84 Z"/><path d="M12.26 10.39 L9.45 10.77" fill="none" stroke="#fff" stroke-width="1.72" stroke-linecap="round" stroke-linejoin="round"/><path d="M19.16 10.39 L25.53 15.18" fill="none" stroke="#fff" stroke-width="1.72" stroke-linecap="round" stroke-linejoin="round"/><circle cx="32.23" cy="15.42" r="2.26"/><path d="M30.73 18.32 L33.74 18.32 Q34.49 18.32 34.71 19.18 L36.1 27.78 L34.28 27.78 L34.28 34.44 L32.56 34.44 L32.56 27.78 L31.91 27.78 L31.91 34.44 L30.19 34.44 L30.19 27.78 L28.36 27.78 L29.76 19.18 Q29.98 18.32 30.73 18.32 Z"/><path d="M30.08 19.29 L25.53 15.18" fill="none" stroke="#fff" stroke-width="1.4" stroke-linecap="round" stroke-linejoin="round"/><path d="M34.38 19.29 L38.7 13.09" fill="none" stroke="#fff" stroke-width="1.4" stroke-linecap="round" stroke-linejoin="round"/><ellipse cx="-22.51" cy="1.61" rx="2.7" ry="3.5" transform="rotate(-13 -22.51 1.61)" fill="#fff"/><path d="M-21.72 5.02 Q-21.2 11.59 -23.72 17.67" fill="none" stroke="#fff" stroke-width="0.8"/><ellipse cx="39.43" cy="-1.04" rx="2.7" ry="3.5" transform="rotate(-13 39.43 -1.04)" fill="#fff"/><path d="M40.21 2.37 Q40.74 7.91 38.7 13.09" fill="none" stroke="#fff" stroke-width="0.8"/></g>
<g transform="translate(461.9 462.3) rotate(51)" fill="#fff"><circle cx="0" cy="-0.1" r="4.3"/><path d="M-4.51 7.49 Q-4.51 5.44 -2.46 5.44 L2.46 5.44 Q4.51 5.44 4.51 7.49 L4.51 35.37 Q4.51 36.6 2.46 36.6 Q0.49 36.6 0.49 35.37 L0.49 21.43 L-0.49 21.43 L-0.49 35.37 Q-0.49 36.6 -2.46 36.6 Q-4.51 36.6 -4.51 35.37 Z"/><path d="M-5.33 7.28 L-11.12 -0.25" fill="none" stroke="#fff" stroke-width="3.53" stroke-linecap="round" stroke-linejoin="round"/><path d="M5.33 7.28 L10.17 -1.28" fill="none" stroke="#fff" stroke-width="3.53" stroke-linecap="round" stroke-linejoin="round"/><circle cx="22.06" cy="-0.64" r="4.3"/><path d="M17.55 6.95 Q17.55 4.9 19.6 4.9 L24.52 4.9 Q26.57 4.9 26.57 6.95 L26.57 34.83 Q26.57 36.06 24.52 36.06 Q22.55 36.06 22.55 34.83 L22.55 20.89 L21.56 20.89 L21.56 34.83 Q21.56 36.06 19.6 36.06 Q17.55 36.06 17.55 34.83 Z"/><path d="M16.73 6.74 L10.17 -1.28" fill="none" stroke="#fff" stroke-width="3.53" stroke-linecap="round" stroke-linejoin="round"/><path d="M27.39 6.74 L34.14 -1.95" fill="none" stroke="#fff" stroke-width="3.53" stroke-linecap="round" stroke-linejoin="round"/></g>
<g fill="#fff"><circle cx="251.9" cy="439.3" r="4.6"/><circle cx="252.9" cy="482.4" r="4.6"/><path d="M254.2 446.8 L258.8 444.2 L271 450 L269.3 455 L264.6 459.4 L258.4 458.4 Z" stroke="#fff" stroke-width="3.4" stroke-linejoin="round"/><path d="M254.2 447.4 L251.4 455 L247.4 460.6" fill="none" stroke="#fff" stroke-width="4" stroke-linecap="round" stroke-linejoin="round"/><path d="M265 458 L270.5 464 L279.6 466" fill="none" stroke="#fff" stroke-width="5.9" stroke-linecap="round" stroke-linejoin="round"/><path d="M260.8 459.5 L260.4 470 L265.8 475.6" fill="none" stroke="#fff" stroke-width="5.9" stroke-linecap="round" stroke-linejoin="round"/></g>
<g fill="#fff"><circle cx="346" cy="406.4" r="5.7"/><circle cx="373" cy="408" r="5.1"/><path d="M335 427 L335 418.5 Q335 413.6 340 413.6 L352 413.6 Q356.6 413.6 356.6 418.5 L356.6 427 Z"/><path d="M363 427 L365.6 417.4 Q366.6 414.2 370 414.2 L376 414.2 Q379.4 414.2 380.4 417.4 L383 427 Z"/><rect x="330" y="426.4" width="57.2" height="3.3" rx="0.8"/><rect x="339.4" y="433" width="5" height="18.2" rx="1.2"/><rect x="346.2" y="433" width="5" height="18.2" rx="1.2"/><path d="M365 434.2 L379.2 434.2 L379.2 438.4 L376.6 438.4 L376.6 451 L373.0 451 L373.0 438.4 L371.4 438.4 L371.4 451 L367.8 451 L367.8 438.4 L365 438.4 Z"/><path d="M339.6 420.6 L339.6 424.6 L352 424.6 L352 420.6 M367.6 421.4 L367.6 424.8 L378.4 424.8 L378.4 421.4" fill="none" stroke="#0489bb" stroke-width="0.8"/></g>
<g fill="#17a8e9"><circle cx="295.7" cy="530.2" r="3"/><path d="M292.55 535.49 Q292.55 534.06 293.98 534.06 L297.42 534.06 Q298.85 534.06 298.85 535.49 L298.85 554.94 Q298.85 555.8 297.42 555.8 Q296.04 555.8 296.04 554.94 L296.04 545.22 L295.36 545.22 L295.36 554.94 Q295.36 555.8 293.98 555.8 Q292.55 555.8 292.55 554.94 Z"/><path d="M291.98 535.35 L287.4 529" fill="none" stroke="#17a8e9" stroke-width="2.29" stroke-linecap="round" stroke-linejoin="round"/><path d="M299.42 535.35 L304 529" fill="none" stroke="#17a8e9" stroke-width="2.29" stroke-linecap="round" stroke-linejoin="round"/><ellipse cx="305" cy="510.2" rx="2.9" ry="4.4" transform="rotate(8 305 510.2)" fill="#17a8e9"/><path d="M304.39 514.56 Q305.88 521.63 304 528.6" fill="none" stroke="#17a8e9" stroke-width="0.9"/></g>
<g fill="#17a8e9"><circle cx="387.3" cy="573.76" r="3.76"/><path d="M383.36 580.38 Q383.36 578.59 385.15 578.59 L389.45 578.59 Q391.24 578.59 391.24 580.38 L391.24 604.73 Q391.24 605.8 389.45 605.8 Q387.73 605.8 387.73 604.73 L387.73 592.55 L386.87 592.55 L386.87 604.73 Q386.87 605.8 385.15 605.8 Q383.36 605.8 383.36 604.73 Z"/><path d="M382.65 580.2 L377.8 572.2" fill="none" stroke="#17a8e9" stroke-width="2.86" stroke-linecap="round" stroke-linejoin="round"/><path d="M391.95 580.2 L397.2 573" fill="none" stroke="#17a8e9" stroke-width="2.86" stroke-linecap="round" stroke-linejoin="round"/><circle cx="406.8" cy="573.76" r="3.76"/><path d="M402.86 580.38 Q402.86 578.59 404.65 578.59 L408.95 578.59 Q410.74 578.59 410.74 580.38 L410.74 604.73 Q410.74 605.8 408.95 605.8 Q407.23 605.8 407.23 604.73 L407.23 592.55 L406.37 592.55 L406.37 604.73 Q406.37 605.8 404.65 605.8 Q402.86 605.8 402.86 604.73 Z"/><path d="M402.15 580.2 L397.2 573" fill="none" stroke="#17a8e9" stroke-width="2.86" stroke-linecap="round" stroke-linejoin="round"/><path d="M411.45 580.2 L417 572" fill="none" stroke="#17a8e9" stroke-width="2.86" stroke-linecap="round" stroke-linejoin="round"/></g>
<g fill="#17a8e9"><circle cx="301.5" cy="624.2" r="3.6"/><circle cx="287.2" cy="656.4" r="3.7"/><path d="M298.8 632.6 L301.2 630.8 L304.4 630.8 L310.8 639.2 L309.6 640.8 L306 641.4 L305.4 644.6 L299.6 644.6 L298.8 638 Z" stroke="#17a8e9" stroke-width="2" stroke-linejoin="round"/><path d="M298.4 632.6 L294.6 636.4 L290.6 638.6" fill="none" stroke="#17a8e9" stroke-width="3.4" stroke-linecap="round" stroke-linejoin="round"/><path d="M300.8 644.4 L297.2 650.2 L299.4 656.4" fill="none" stroke="#17a8e9" stroke-width="4.6" stroke-linecap="round" stroke-linejoin="round"/><path d="M304.2 644.4 L306.8 649.6 L312.6 653.2" fill="none" stroke="#17a8e9" stroke-width="4.6" stroke-linecap="round" stroke-linejoin="round"/></g>
</svg>
</body></html>
